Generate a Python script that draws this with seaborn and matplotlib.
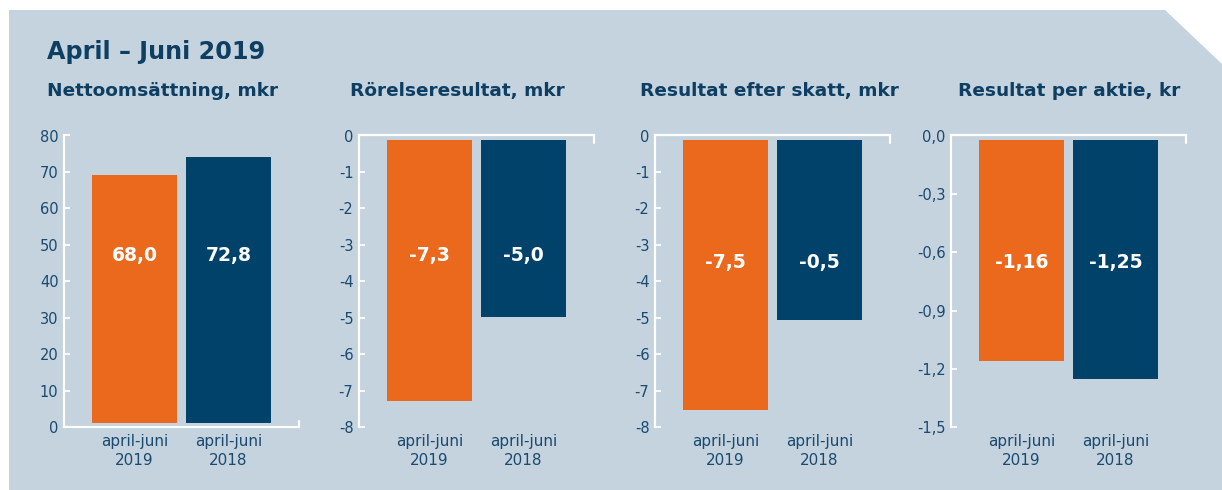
import numpy as np
import matplotlib
matplotlib.use('Agg')
import matplotlib.pyplot as plt
import seaborn as sns
from matplotlib.patches import Polygon
from matplotlib.ticker import FuncFormatter

sns.set_style('white')
plt.rcParams['font.family'] = ['DejaVu Sans']

# Data
perioder = ['april-juni\n2019', 'april-juni\n2018']
rubriker = ['Nettoomsättning, mkr', 'Rörelseresultat, mkr',
            'Resultat efter skatt, mkr', 'Resultat per aktie, kr']
# staplarnas slut
nettoomsattning = [69.2, 74.1]
rorelseresultat = [-7.27, -4.97]
resultat_efter_skatt = [-7.53, -5.05]
resultat_per_aktie = [-1.16, -1.253]
# tryckta etiketter
etiketter = [['68,0', '72,8'], ['-7,3', '-5,0'], ['-7,5', '-0,5'], ['-1,16', '-1,25']]
yticks = [[0, 10, 20, 30, 40, 50, 60, 70, 80],
          [-8, -7, -6, -5, -4, -3, -2, -1, 0],
          [-8, -7, -6, -5, -4, -3, -2, -1, 0],
          [-1.5, -1.2, -0.9, -0.6, -0.3, 0.0]]
decimaler = [0, 0, 0, 1]

serier = [nettoomsattning, rorelseresultat, resultat_efter_skatt, resultat_per_aktie]

ORANGE = '#ea691d'
BLA = '#00426a'
BG = '#c4d3de'
TXT = '#0e3f63'
TICK = '#1a4a6f'

W, H = 1222, 490
fig = plt.figure(figsize=(W / 100, H / 100), dpi=100)
fig.patch.set_facecolor('white')

# bakgrund med avskuren hörna
pts = [(9, 10), (1165, 10), (1222, 64), (1222, 490), (9, 490)]
fig.patches.append(Polygon([(x / W, 1 - y / H) for x, y in pts], closed=True,
                           transform=fig.transFigure, facecolor=BG, edgecolor='none', zorder=-5))

fig.text(47 / W, 1 - 52 / H, 'April – Juni 2019', fontsize=17.2, fontweight='bold',
         color=TXT, va='center', ha='left')

lefts = [64, 359, 655, 951]
titel_x = [47, 350, 640, 958]
etikett_y = [0.589, 0.589, 0.566, 0.566]
ax_top, ax_bot, ax_w = 135.5, 427.3, 235

for k in range(4):
    ax = fig.add_axes([lefts[k] / W, 1 - ax_bot / H, ax_w / W, (ax_bot - ax_top) / H])
    ax.set_facecolor('none')
    sns.barplot(x=perioder, y=serier[k], hue=perioder, palette=[ORANGE, BLA],
                width=0.9, saturation=1, legend=False, ax=ax)
    ax.set_xlim(-0.75, 1.75)
    lo, hi = yticks[k][0], yticks[k][-1]
    ax.set_ylim(lo, hi)
    ax.set_yticks(yticks[k])
    d = decimaler[k]
    ax.yaxis.set_major_formatter(FuncFormatter(lambda v, p, d=d: f'{v:.{d}f}'.replace('.', ',')))

    # liten lucka mellan axel och stapel
    gap = 4.5 * (hi - lo) / (ax_bot - ax_top)
    for p, v in zip(ax.patches, serier[k]):
        if v > 0:
            p.set_y(gap)
            p.set_height(v - gap)
        else:
            p.set_y(-gap)
            p.set_height(v + gap)
        p.set_edgecolor('none')

    positiv = hi > 0
    for s in ax.spines.values():
        s.set_visible(False)
    ax.spines['left'].set_visible(True)
    base = 'bottom' if positiv else 'top'
    ax.spines[base].set_visible(True)
    for s in ['left', base]:
        ax.spines[s].set_color('white')
        ax.spines[s].set_linewidth(1.6)
    if positiv:
        ax.plot([1, 1], [0, 0.02], transform=ax.transAxes, color='white', lw=1.6, clip_on=False)
    else:
        ax.plot([1, 1], [1, 0.976], transform=ax.transAxes, color='white', lw=1.6, clip_on=False)

    ax.tick_params(axis='y', direction='in', length=4, width=1.3, color='white',
                   labelsize=10.5, labelcolor=TICK, pad=4, left=True)
    ax.tick_params(axis='x', length=0, labelsize=11, labelcolor=TICK, pad=5)
    for t in ax.get_xticklabels():
        t.set_linespacing(1.35)
    ax.set_xlabel('')
    ax.set_ylabel('')

    for i, lab in enumerate(etiketter[k]):
        ax.text(i, etikett_y[k], lab, transform=ax.get_xaxis_transform(), ha='center',
                va='center', color='white', fontsize=13.5, fontweight='bold')

    fig.text(titel_x[k] / W, 1 - 91 / H, rubriker[k], fontsize=13.3, fontweight='bold',
             color=TXT, va='center', ha='left')

fig.savefig('out.png', dpi=100, facecolor=fig.get_facecolor())
